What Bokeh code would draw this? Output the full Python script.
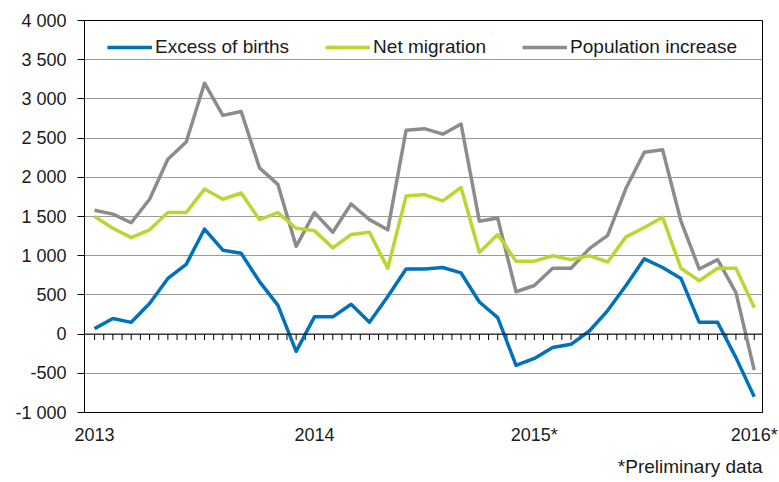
import numpy as np
from bokeh.plotting import figure
from bokeh.models import (FixedTicker, Legend, LegendItem, Range1d, Span, Title,
                          ColumnDataSource)
from bokeh.embed import file_html
from bokeh.resources import INLINE

# ---- data (monthly, Jan 2013 .. Jan 2016) ----
months = list(range(37))
year_ticks = [0, 12, 24, 36]
year_labels = ["2013", "2014", "2015*", "2016*"]

excess_births = [70, 200, 150, 390, 710, 890, 1340, 1070, 1030, 670, 370, -220,
                 220, 220, 380, 150, 480, 830, 830, 850, 780, 410, 210, -400,
                 -310, -170, -130, 40, 300, 620, 960, 850, 710, 150, 150, -300,
                 -800]
net_migration = [1500, 1350, 1230, 1330, 1550, 1550, 1850, 1720, 1800, 1460, 1550, 1350,
                 1320, 1100, 1270, 1300, 840, 1760, 1780, 1700, 1870, 1040, 1270, 930,
                 930, 1000, 950, 1000, 920, 1240, 1360, 1490, 840, 680, 840, 840,
                 340]
population_increase = [1580, 1530, 1420, 1720, 2230, 2450, 3200, 2790, 2840, 2120, 1910, 1120,
                       1550, 1300, 1660, 1460, 1330, 2600, 2620, 2550, 2680, 1440, 1480, 540,
                       620, 840, 840, 1090, 1260, 1860, 2320, 2350, 1440, 830, 950, 530,
                       -460]

y_ticks = [-1000, -500, 0, 500, 1000, 1500, 2000, 2500, 3000, 3500, 4000]
y_tick_labels = ["-1 000", "-500", "0", "500", "1 000", "1 500", "2 000",
                 "2 500", "3 000", "3 500", "4 000"]

series_names = ["Excess of births", "Net migration", "Population increase"]
series_colors = ["#0072bb", "#bcd631", "#8c8c8c"]
footnote = "*Preliminary data"

FONT = "Liberation Sans"
TXT = "#1a1a1a"

p = figure(width=779, height=482, output_backend="svg", toolbar_location=None,
           x_range=Range1d(-0.55, 36.45), y_range=Range1d(-1000, 4000),
           min_border_left=84, min_border_right=17, min_border_top=20,
           min_border_bottom=69)
p.outline_line_color = "black"
p.outline_line_width = 1
p.background_fill_color = "white"
p.border_fill_color = "white"

# grid
p.xgrid.visible = False
p.ygrid.ticker = FixedTicker(ticks=y_ticks)
p.ygrid.grid_line_color = "#9a9a9a"
p.ygrid.grid_line_width = 1

# y axis
ya = p.yaxis[0]
ya.ticker = FixedTicker(ticks=y_ticks)
ya.major_label_overrides = {t: l for t, l in zip(y_ticks, y_tick_labels)}
ya.major_tick_out = 7
ya.major_tick_in = 0
ya.minor_tick_out = 0
ya.minor_tick_in = 0
ya.major_label_standoff = 11
ya.axis_line_color = "black"
ya.major_tick_line_color = "black"
ya.major_label_text_font = FONT
ya.major_label_text_font_size = "18px"
ya.major_label_text_color = TXT

# x axis
xa = p.xaxis[0]
xa.ticker = FixedTicker(ticks=year_ticks)
xa.major_label_overrides = {t: l for t, l in zip(year_ticks, year_labels)}
xa.major_tick_out = 0
xa.major_tick_in = 0
xa.minor_tick_out = 0
xa.minor_tick_in = 0
xa.major_label_standoff = 12
xa.axis_line_color = "black"
xa.major_label_text_font = FONT
xa.major_label_text_font_size = "18px"
xa.major_label_text_color = TXT

# zero line and month ticks on it
p.add_layout(Span(location=0, dimension="width", line_color="black", line_width=1))
tick_x = np.arange(months[0], months[-1] + 0.25, 0.5)
tick_len = 75
p.segment(x0=tick_x, y0=np.zeros_like(tick_x), x1=tick_x,
          y1=np.full_like(tick_x, -tick_len), line_color="black", line_width=1)

# series
src = ColumnDataSource(dict(x=months, a=excess_births, b=net_migration,
                            c=population_increase))
renderers = []
for col, color in zip(["c", "b", "a"], series_colors[::-1]):
    r = p.line("x", col, source=src, line_color=color, line_width=3.5,
               line_join="round")
    renderers.append(r)
renderers = renderers[::-1]

legend = Legend(items=[LegendItem(label=n, renderers=[r])
                       for n, r in zip(series_names, renderers)],
                orientation="horizontal", location=(23, 354),
                glyph_width=45, glyph_height=20, label_standoff=3, spacing=36,
                padding=0, margin=0, label_text_font=FONT,
                label_text_font_size="19px", label_text_color=TXT,
                background_fill_alpha=0, border_line_alpha=0,
                label_height=20)
p.add_layout(legend)

note = Title(text=footnote, align="right", text_font=FONT,
             text_font_size="19px", text_font_style="normal",
             text_color=TXT, standoff=12)
p.add_layout(note, "below")

open("out.html", "w").write(file_html(p, INLINE))
